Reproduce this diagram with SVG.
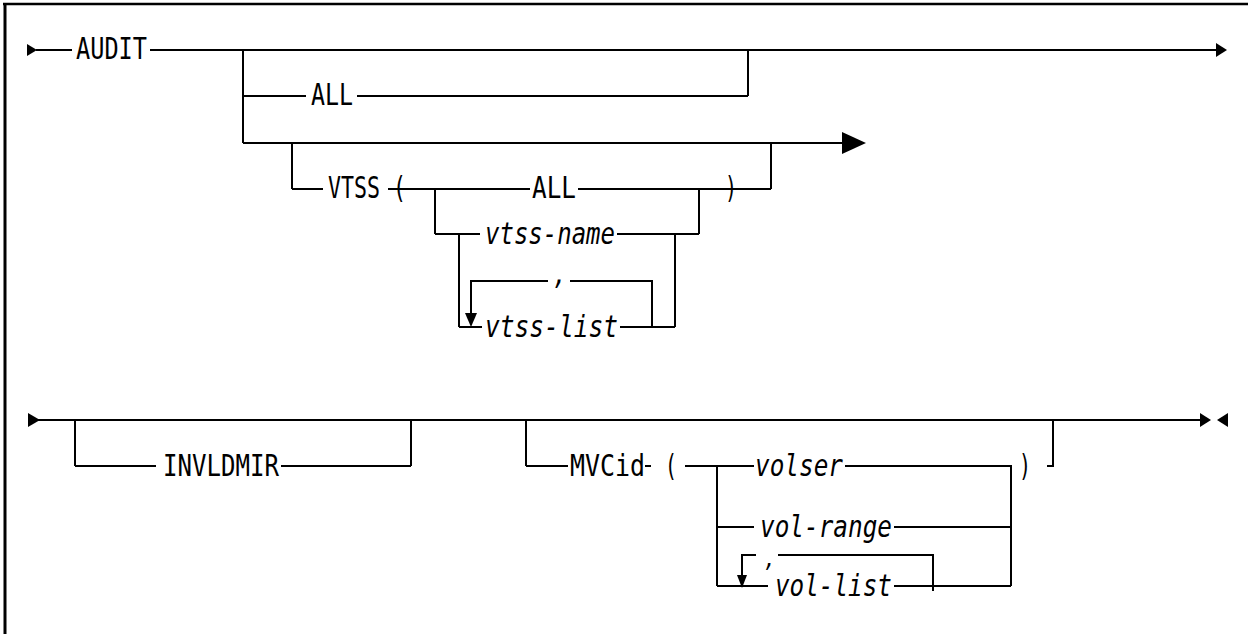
<svg xmlns="http://www.w3.org/2000/svg" width="1248" height="634" viewBox="0 0 1248 634">
<style>
  .ln { stroke:#000; stroke-width:2; fill:none; }
  .fr { stroke:#000; fill:none; }
  .ah { fill:#000; }
  text { font-family:"DejaVu Sans Mono","Liberation Mono",monospace; font-size:30px; fill:#000; }
  .it { font-style:italic; }
  .sm { font-size:24px; }
</style>
<rect width="1248" height="634" fill="#fff"/>
<g id="frame">
  <line class="fr" x1="3" y1="4" x2="1248" y2="4" stroke-width="2.5"/>
  <line class="fr" x1="5" y1="3" x2="5" y2="634" stroke-width="3"/>
</g>
<g id="connectors">
  <!-- row 1 main -->
  <line class="ln" x1="36" y1="50" x2="72" y2="50"/>
  <line class="ln" x1="150" y1="50" x2="1217" y2="50"/>
  <line class="ln" x1="243" y1="50" x2="243" y2="143"/>
  <line class="ln" x1="243" y1="96" x2="306" y2="96"/>
  <line class="ln" x1="357" y1="96" x2="748" y2="96"/>
  <line class="ln" x1="748" y1="96" x2="748" y2="50"/>
  <line class="ln" x1="243" y1="143" x2="843" y2="143"/>
  <line class="ln" x1="292" y1="143" x2="292" y2="189"/>
  <line class="ln" x1="292" y1="189" x2="323" y2="189"/>
  <line class="ln" x1="388" y1="189" x2="530" y2="189"/>
  <line class="ln" x1="578" y1="189" x2="771" y2="189"/>
  <line class="ln" x1="771" y1="189" x2="771" y2="143"/>
  <line class="ln" x1="435" y1="189" x2="435" y2="234"/>
  <line class="ln" x1="699" y1="189" x2="699" y2="234"/>
  <line class="ln" x1="435" y1="234" x2="480" y2="234"/>
  <line class="ln" x1="617" y1="234" x2="699" y2="234"/>
  <line class="ln" x1="459" y1="234" x2="459" y2="327"/>
  <line class="ln" x1="675" y1="234" x2="675" y2="327"/>
  <line class="ln" x1="459" y1="327" x2="482" y2="327"/>
  <line class="ln" x1="620" y1="327" x2="675" y2="327"/>
  <polyline class="ln" points="652,327 652,281 570,281"/>
  <polyline class="ln" points="548,281 471,281 471,315"/>
  <!-- row 2 main -->
  <line class="ln" x1="38" y1="420" x2="1202" y2="420"/>
  <line class="ln" x1="75" y1="420" x2="75" y2="466"/>
  <line class="ln" x1="75" y1="466" x2="156" y2="466"/>
  <line class="ln" x1="281" y1="466" x2="411" y2="466"/>
  <line class="ln" x1="411" y1="466" x2="411" y2="420"/>
  <line class="ln" x1="526" y1="420" x2="526" y2="466"/>
  <line class="ln" x1="526" y1="466" x2="568" y2="466"/>
  <line class="ln" x1="645" y1="466" x2="651" y2="466"/>
  <line class="ln" x1="685" y1="466" x2="754" y2="466"/>
  <line class="ln" x1="845" y1="466" x2="1012" y2="466"/>
  <line class="ln" x1="717" y1="466" x2="717" y2="586"/>
  <line class="ln" x1="1011" y1="466" x2="1011" y2="586"/>
  <line class="ln" x1="717" y1="527" x2="754" y2="527"/>
  <line class="ln" x1="894" y1="527" x2="1011" y2="527"/>
  <line class="ln" x1="717" y1="586" x2="768" y2="586"/>
  <line class="ln" x1="894" y1="586" x2="1011" y2="586"/>
  <polyline class="ln" points="1047,466 1053,466 1053,420"/>
  <polyline class="ln" points="756,555 742,555 742,576"/>
  <polyline class="ln" points="778,555 933,555 933,591"/>
  <!-- arrowheads -->
  <polygon class="ah" points="27,44 37,50 27,56"/>
  <polygon class="ah" points="1216,43 1227,50 1216,57"/>
  <polygon class="ah" points="842,132 866,143 842,154"/>
  <polygon class="ah" points="465,313 477,313 471,327"/>
  <polygon class="ah" points="28,413 40,420 28,427"/>
  <polygon class="ah" points="1200,413 1211,420 1200,427"/>
  <polygon class="ah" points="1228,413 1217,420 1228,427"/>
  <polygon class="ah" points="737,575 747,575 742,588"/>
</g>
<g id="n-audit"><text x="76" y="59" textLength="71" lengthAdjust="spacingAndGlyphs">AUDIT</text></g>
<g id="n-all"><text x="311" y="105" textLength="42" lengthAdjust="spacingAndGlyphs">ALL</text></g>
<g id="n-vtss"><text x="328" y="198" textLength="78" lengthAdjust="spacingAndGlyphs">VTSS (</text></g>
<g id="n-vtss-all"><text x="532" y="198" textLength="44" lengthAdjust="spacingAndGlyphs">ALL</text>
  <text x="725" y="198" textLength="12" lengthAdjust="spacingAndGlyphs">)</text></g>
<g id="n-vtss-name"><text class="it" x="485" y="244" textLength="130" lengthAdjust="spacingAndGlyphs">vtss-name</text></g>
<g id="n-vtss-sep"><text class="it" x="553" y="284" textLength="14" lengthAdjust="spacingAndGlyphs">,</text></g>
<g id="n-vtss-list"><text class="it" x="485" y="337" textLength="133" lengthAdjust="spacingAndGlyphs">vtss-list</text></g>
<g id="n-invldmir"><text x="163" y="476" textLength="116" lengthAdjust="spacingAndGlyphs">INVLDMIR</text></g>
<g id="n-mvcid"><text x="570" y="476" textLength="75" lengthAdjust="spacingAndGlyphs">MVCid</text>
  <text x="665" y="476" textLength="12" lengthAdjust="spacingAndGlyphs">(</text></g>
<g id="n-volser"><text class="it" x="755" y="476" textLength="88" lengthAdjust="spacingAndGlyphs">volser</text>
  <text x="1019" y="476" textLength="12" lengthAdjust="spacingAndGlyphs">)</text></g>
<g id="n-vol-range"><text class="it" x="760" y="537" textLength="132" lengthAdjust="spacingAndGlyphs">vol-range</text></g>
<g id="n-vol-sep"><text class="it sm" x="764" y="567" textLength="12" lengthAdjust="spacingAndGlyphs">,</text></g>
<g id="n-vol-list"><text class="it" x="775" y="596" textLength="117" lengthAdjust="spacingAndGlyphs">vol-list</text></g>
</svg>
